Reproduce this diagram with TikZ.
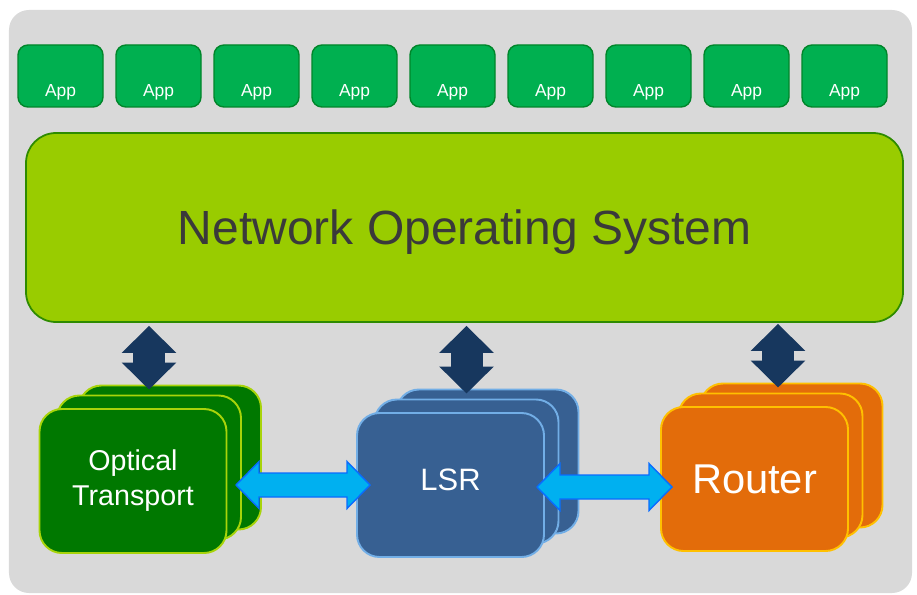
\documentclass[tikz,border=0pt]{standalone}
\usepackage{fontspec}
\setmainfont{Liberation Sans}
\usetikzlibrary{calc,arrows.meta}
\definecolor{bgGrey}{HTML}{D9D9D9}
\definecolor{appGreen}{HTML}{00B050}
\definecolor{appBorder}{HTML}{00862A}
\definecolor{nosGreen}{HTML}{99CC00}
\definecolor{nosBorder}{HTML}{2E8B00}
\definecolor{nosText}{HTML}{3A3A3A}
\definecolor{optGreen}{HTML}{007800}
\definecolor{optBorder}{HTML}{A8D40A}
\definecolor{lsrBlue}{HTML}{376092}
\definecolor{lsrBorder}{HTML}{72AEE6}
\definecolor{routerOrange}{HTML}{E36C0A}
\definecolor{routerBorder}{HTML}{FFC000}
\definecolor{navy}{HTML}{17375E}
\definecolor{linkBlue}{HTML}{00B0F0}
\definecolor{linkBorder}{HTML}{0A6CFF}
\newcommand{\cardStack}[4]{%
  \node[#3,minimum width=3.64cm] (#1Back) at ($(#2)+(0.74,0.47)$) {};
  \node[#3,minimum width=3.68cm] (#1Mid) at ($(#2)+(0.32,0.27)$) {};
  \node[#3] (#1) at (#2) {#4};
}
\newcommand{\fatArrow}[2]{%
  \draw[linkStyle] (#1) -- ++(\headlen,\headwid) -- ++(0,-\headext)
    -- ($(#2)+(-\headlen,\shaftwid)$) -- ++(0,\headext) -- (#2)
    -- ++(-\headlen,-\headwid) -- ++(0,\headext)
    -- ($(#1)+(\headlen,-\shaftwid)$) -- ++(0,-\headext) -- cycle;
}

\begin{document}
\begin{tikzpicture}[%
  appStyle/.style={draw=appBorder,fill=appGreen,line width=0.8pt,rounded corners=0.2cm,minimum width=1.7cm,minimum height=1.24cm,inner sep=0pt},%
  appText/.style={text=white,font=\fontsize{9.9}{12}\selectfont,anchor=base,inner sep=0pt},%
  nosStyle/.style={draw=nosBorder,fill=nosGreen,line width=1pt,rounded corners=0.6cm,minimum width=17.54cm,minimum height=3.78cm,text=nosText,text depth=0pt,font=\fontsize{27.3}{32}\selectfont},%
  cardStyle/.style={line width=1.1pt,rounded corners=0.45cm,minimum width=3.74cm,minimum height=2.88cm,text=white,align=center,inner sep=0pt},%
  optStyle/.style={cardStyle,fill=optGreen,draw=optBorder,font=\fontsize{16.3}{19.9}\selectfont},%
  lsrStyle/.style={cardStyle,fill=lsrBlue,draw=lsrBorder,font=\fontsize{17.6}{21}\selectfont,text depth=0.22cm},%
  routerStyle/.style={cardStyle,fill=routerOrange,draw=routerBorder,font=\fontsize{23.7}{28}\selectfont},%
  vArrow/.style={navy,line width=0.64cm,{Triangle[length=0.54cm,width=1.06cm]}-{Triangle[length=0.54cm,width=1.06cm]}},%
  linkStyle/.style={fill=linkBlue,draw=linkBorder,line width=0.8pt,line join=miter}%
]
%
%
\pgfmathsetmacro{\headlen}{0.46}
\pgfmathsetmacro{\headwid}{0.47}
\pgfmathsetmacro{\shaftwid}{0.24}
\pgfmathsetmacro{\headext}{0.23}
%
% The background.
\useasboundingbox (0,0) rectangle (18.34,-11.9);
\fill[bgGrey,rounded corners=0.4cm] (0.18,-0.2) rectangle (18.24,-11.86);
%
% The apps.
\foreach \i in {0,...,8}{
  \node[appStyle] (app\i) at (1.21+1.96*\i,-1.52) {};
  \node[appText] (appLabel\i) at ($(app\i.south)+(0,0.22)$) {App};
}
%
% The network operating system.
\node[nosStyle] (nos) at (9.29,-4.55) {Network Operating System};
%
% The device stacks.
\cardStack{opt}{2.66,-9.62}{optStyle}{Optical\\Transport}
\cardStack{lsr}{9.01,-9.70}{lsrStyle}{LSR}
\cardStack{router}{15.09,-9.58}{routerStyle}{Router}
%
% Control links to the operating system.
\draw[vArrow] ([yshift=-0.06cm]nos.south -| optMid.north) -- ([yshift=0.1cm]optMid.north);
\draw[vArrow] ([yshift=-0.06cm]nos.south -| lsrMid.north) -- ([yshift=0.1cm]lsrMid.north);
\draw[vArrow] ([xshift=0.15cm,yshift=-0.02cm]nos.south -| routerMid.north) -- ([xshift=0.15cm,yshift=0.1cm]routerMid.north);
%
% Data links between the devices.
\coordinate (link1West) at (4.72,-9.70);
\coordinate (link1East) at (7.40,-9.70);
\coordinate (link2West) at (10.74,-9.74);
\coordinate (link2East) at (13.44,-9.74);
\fatArrow{link1West}{link1East}
\fatArrow{link2West}{link2East}
\end{tikzpicture}
\end{document}
